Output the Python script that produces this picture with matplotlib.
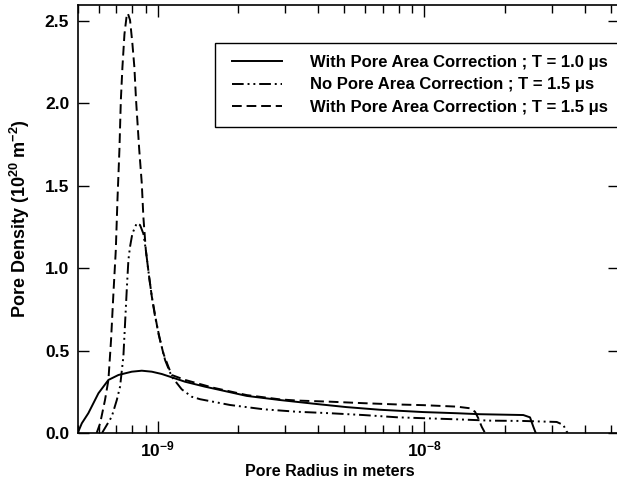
import math
import matplotlib
matplotlib.use("Agg")
import matplotlib.pyplot as plt
from matplotlib.patches import Rectangle
from matplotlib.ticker import LogLocator, FixedLocator, FormatStrFormatter, NullFormatter, FuncFormatter

plt.rcParams['font.family'] = ['Liberation Sans', 'DejaVu Sans']
plt.rcParams['font.weight'] = 'bold'
plt.rcParams['mathtext.fontset'] = 'custom'
plt.rcParams['mathtext.rm'] = 'Liberation Sans:bold'
plt.rcParams['mathtext.bf'] = 'Liberation Sans:bold'
plt.rcParams['mathtext.it'] = 'Liberation Sans:bold'
plt.rcParams['mathtext.default'] = 'bf'

# Pore radius in nm, pore density in 1e20 m^-2
solid_r = [0.501, 0.519, 0.549, 0.599, 0.653, 0.712, 0.799, 0.871, 0.950, 1.035, 1.128,
           1.266, 1.504, 1.616, 2.157, 2.874, 3.832, 5.112, 6.817, 9.906, 13.21, 16.16,
           23.49, 24.89, 25.61, 26.15]
solid_v = [0, 0.059, 0.120, 0.241, 0.322, 0.352, 0.372, 0.378, 0.372, 0.358, 0.338,
           0.311, 0.281, 0.27, 0.225, 0.200, 0.178, 0.157, 0.141, 0.127, 0.120, 0.114,
           0.109, 0.095, 0.038, 0]

dashdot_r = [0.618, 0.672, 0.702, 0.722, 0.743, 0.754, 0.765, 0.776, 0.787, 0.803, 0.834,
             0.858, 0.883, 0.902, 0.928, 0.950, 0.977, 1.020, 1.065, 1.128, 1.230, 1.341,
             1.441, 1.866, 2.489, 3.320, 4.426, 5.901, 7.962, 13.21, 17.62, 23.49, 31.34,
             33.18, 34.17, 34.56]
dashdot_v = [0, 0.099, 0.2, 0.281, 0.463, 0.666, 0.868, 1.05, 1.13, 1.21, 1.273,
             1.262, 1.21, 1.11, 0.948, 0.827, 0.706, 0.564, 0.443, 0.342, 0.265, 0.220,
             0.205, 0.170, 0.144, 0.129, 0.120, 0.109, 0.095, 0.083, 0.075, 0.073, 0.067,
             0.049, 0.008, 0]

dashed_r = [0.590, 0.608, 0.634, 0.653, 0.668, 0.682, 0.696, 0.706, 0.718, 0.727, 0.737,
            0.750, 0.765, 0.772, 0.787, 0.803, 0.817, 0.829, 0.852, 0.871, 0.883, 0.902,
            0.928, 0.950, 1.005, 1.049, 1.096, 1.128, 1.266, 1.612, 2.157, 2.874, 3.320,
            4.426, 5.901, 7.962, 9.906, 13.21, 14.83, 15.48, 15.93, 16.40, 16.88]
dashed_v = [0, 0.059, 0.2, 0.322, 0.564, 0.85, 1.11, 1.414, 1.717, 2.02, 2.22,
            2.42, 2.536, 2.547, 2.506, 2.365, 2.22, 2.02, 1.72, 1.515, 1.312, 1.11,
            0.948, 0.827, 0.605, 0.484, 0.402, 0.352, 0.322, 0.275, 0.230, 0.204, 0.197,
            0.190, 0.181, 0.173, 0.169, 0.160, 0.150, 0.129, 0.089, 0.038, 0]

labels = ["With Pore Area Correction ; T = 1.0 \u03bcs",
          "No Pore Area Correction ; T = 1.5 \u03bcs",
          "With Pore Area Correction ; T = 1.5 \u03bcs"]
y_ticks = [0.0, 0.5, 1.0, 1.5, 2.0, 2.5]
x_major = [1e-9, 1e-8]

W, H = 617, 487
fig = plt.figure(figsize=(W / 100, H / 100), dpi=100)
ax = fig.add_axes([77.5 / W, 1 - 433 / H, (619 - 77.5) / W, (433 - 5) / H])

nm = 1e-9
ax.plot([r * nm for r in solid_r], solid_v, color='black', lw=1.4, ls='-', label=labels[0])
ax.plot([r * nm for r in dashdot_r], dashdot_v, color='black', lw=1.4,
        dashes=(6, 2, 1, 2, 1, 2), label=labels[1])
ax.plot([r * nm for r in dashed_r], dashed_v, color='black', lw=1.4,
        dashes=(5, 2.5), label=labels[2])

ax.set_xscale('log')
ax.set_xlim(5.0e-10, 5.367e-8)
ax.set_ylim(0, 2.597)

ax.xaxis.set_major_locator(FixedLocator(x_major))
ax.xaxis.set_minor_locator(LogLocator(base=10, subs=range(2, 10), numticks=20))
ax.xaxis.set_minor_formatter(NullFormatter())
ax.xaxis.set_major_formatter(FuncFormatter(lambda v, p: r'$10^{%d}$' % round(math.log10(v))))
ax.yaxis.set_major_locator(FixedLocator(y_ticks))
ax.yaxis.set_major_formatter(FormatStrFormatter('%.1f'))

ax.tick_params(axis='both', which='both', direction='in', top=True, right=True,
               width=1.0, labelsize=12.5)
ax.tick_params(axis='y', which='major', length=8, pad=6)
ax.tick_params(axis='x', which='major', length=8.5, pad=5)
ax.tick_params(axis='x', which='minor', length=5.5)
for lab in ax.get_xticklabels() + ax.get_yticklabels():
    lab.set_fontweight('bold')
for s in ax.spines.values():
    s.set_linewidth(1.2)

fig.text(330 / W, 1 - 471 / H, 'Pore Radius in meters', fontsize=11.5, fontweight='bold',
         ha='center', va='center')
ax.set_ylabel(r'Pore Density (10$^{20}$ m$^{-2}$)', fontsize=13, fontweight='bold', labelpad=9)

# legend frame
fig.patches.append(Rectangle((215 / W, 1 - 127 / H), (622 - 215) / W, (127 - 43) / H,
                             transform=fig.transFigure, facecolor='white',
                             edgecolor='black', lw=1.0, zorder=5))
leg = fig.legend(loc='upper left', bbox_to_anchor=(232 / W, 1 - 55 / H),
                 fontsize=12, handlelength=3.0, handletextpad=1.7, labelspacing=0.45,
                 borderpad=0, borderaxespad=0, frameon=False)
leg.set_zorder(6)
for t in leg.get_texts():
    t.set_fontweight('bold')

fig.savefig('out.png', dpi=100)
